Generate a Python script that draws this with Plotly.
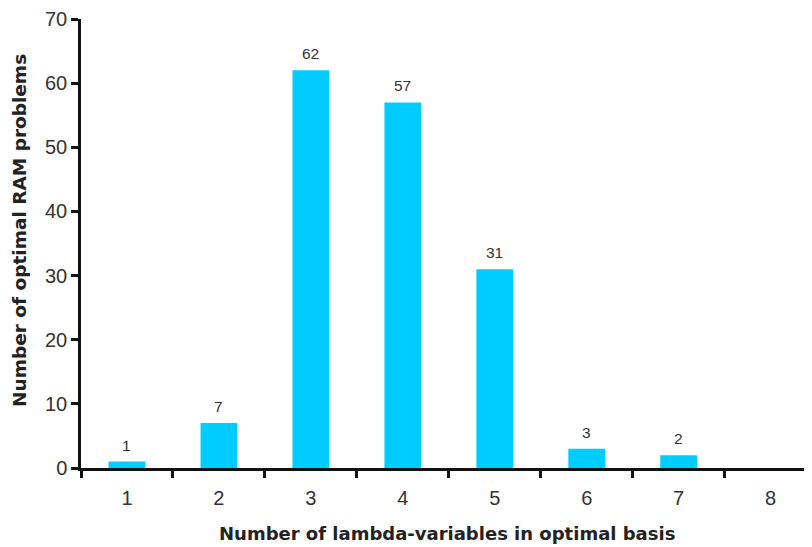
import plotly.graph_objects as go

categories = ["1", "2", "3", "4", "5", "6", "7", "8"]
counts = [1, 7, 62, 57, 31, 3, 2, 0]
y_ticks = [0, 10, 20, 30, 40, 50, 60, 70]
x_title = "Number of lambda-variables in optimal basis"
y_title = "Number of optimal RAM problems"

fig = go.Figure(go.Bar(
    x=categories, y=counts,
    marker=dict(color="#00CCFF", line=dict(width=0)),
    width=0.4,
))

# value labels above bars (skip zero); category axis positions are indices
for i, v in enumerate(counts):
    if v > 0:
        fig.add_annotation(x=i, y=v, text=str(v), showarrow=False,
                           yanchor="bottom", yshift=6,
                           font=dict(size=15.5, color="#333333",
                                     family="Liberation Sans, Arial"))

fig.add_annotation(xref="paper", yref="paper", x=0.5, y=0, yanchor="middle",
                   yshift=-65, text="<b>" + x_title + "</b>", showarrow=False,
                   font=dict(size=18, color="#222222", family="DejaVu Sans"))
fig.add_annotation(xref="paper", yref="paper", x=0, y=0.528, xanchor="center",
                   xshift=-61, textangle=-90, text="<b>" + y_title + "</b>",
                   showarrow=False, borderpad=0,
                   font=dict(size=18.5, color="#222222", family="DejaVu Sans"))

fig.update_layout(
    width=804, height=539,
    margin=dict(l=73, r=0, t=11, b=79),
    paper_bgcolor="white", plot_bgcolor="white",
    font=dict(family="Liberation Sans, Arial", color="#222222"),
    showlegend=False,
)
fig.update_xaxes(
    type="category", range=[-0.5, 7.45], tickson="boundaries",
    ticks="outside", ticklen=7, tickwidth=2.5, tickcolor="#111111",
    showline=True, linecolor="#111111", linewidth=2.5,
    showgrid=False, tickfont=dict(size=20, color="#333333"),
    ticklabelstandoff=10, automargin=False,
)
fig.update_yaxes(
    range=[0, 70], tickvals=y_ticks, ticks="outside", ticklen=7, tickwidth=2.5,
    tickcolor="#111111", showline=True, linecolor="#111111", linewidth=2.5,
    showgrid=False, zeroline=False, tickfont=dict(size=20, color="#333333"),
    automargin=False,
)

fig.write_html("out.html")
